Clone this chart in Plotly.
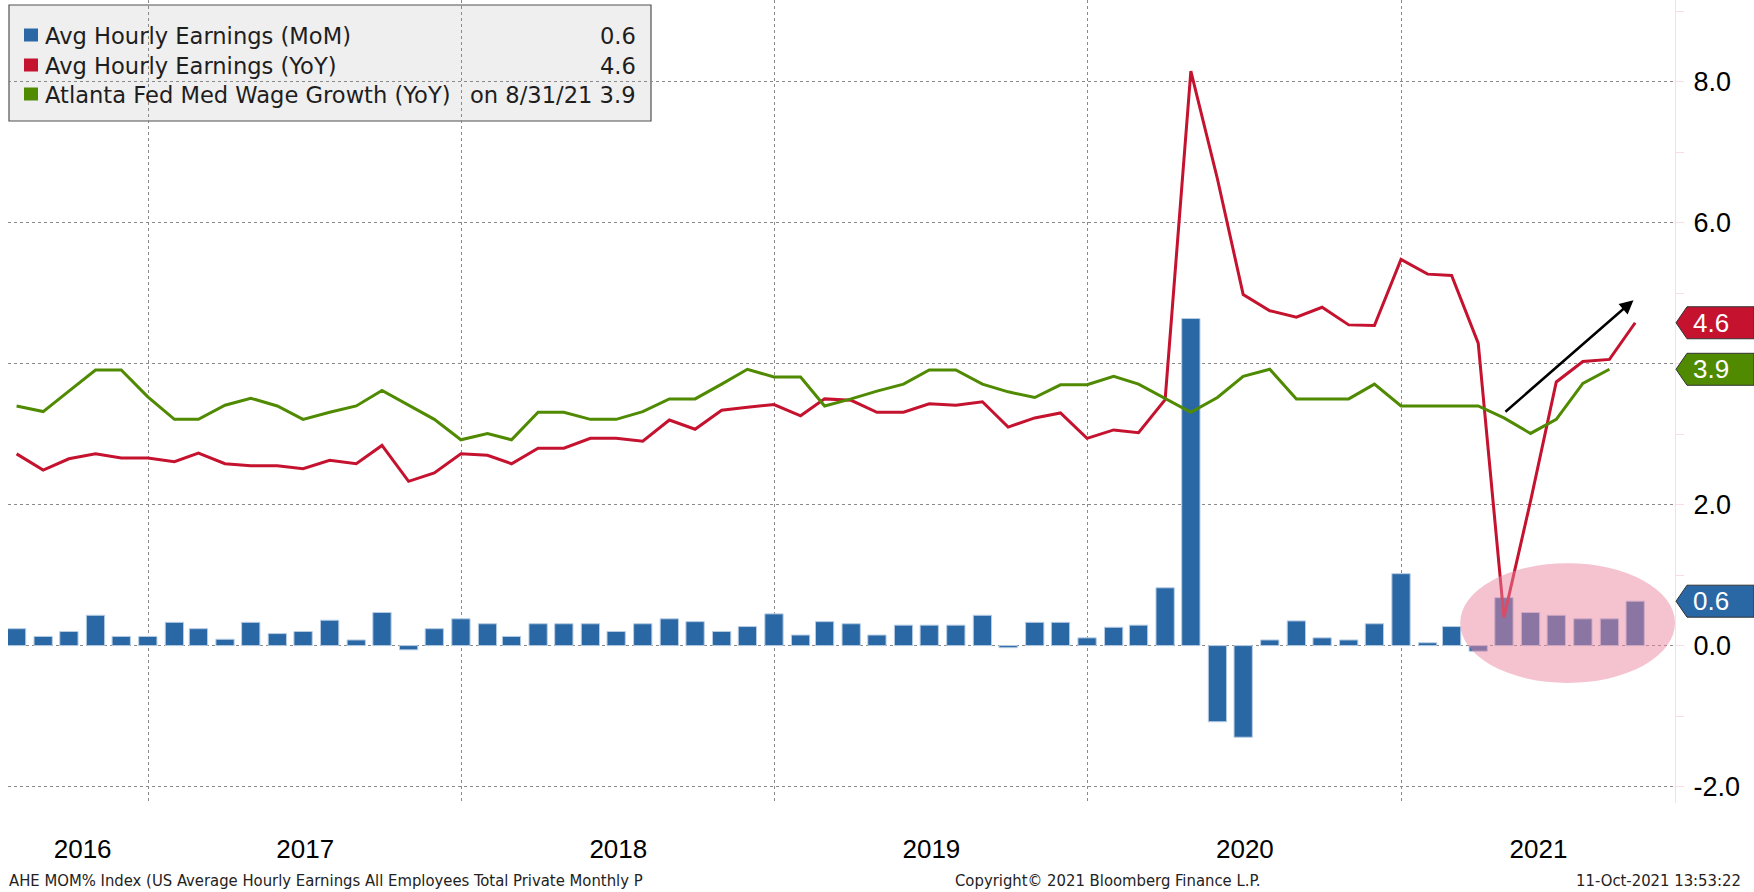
import pandas as pd
import plotly.graph_objects as go

# Month-end observation dates, Jul 2016 .. Sep 2021
dates = pd.date_range("2016-07-31", "2021-09-30", freq="ME")

# Avg Hourly Earnings, MoM %
ahe_mom = [0.24, 0.13, 0.20, 0.43, 0.13, 0.13, 0.33, 0.24, 0.09, 0.33,
           0.17, 0.20, 0.36, 0.08, 0.47, -0.06, 0.24, 0.38, 0.31, 0.13,
           0.31, 0.31, 0.31, 0.20, 0.31, 0.38, 0.34, 0.20, 0.27, 0.45,
           0.15, 0.34, 0.31, 0.15, 0.29, 0.29, 0.29, 0.43, -0.03, 0.33,
           0.33, 0.11, 0.26, 0.29, 0.82, 4.64, -1.08, -1.30, 0.08, 0.35,
           0.11, 0.08, 0.31, 1.02, 0.04, 0.27, -0.08, 0.68, 0.47, 0.43,
           0.38, 0.38, 0.63]

# Avg Hourly Earnings, YoY %
ahe_yoy = [2.72, 2.49, 2.65, 2.72, 2.66, 2.66, 2.61, 2.73, 2.58, 2.55,
           2.55, 2.51, 2.63, 2.58, 2.84, 2.33, 2.45, 2.72, 2.70, 2.58,
           2.80, 2.80, 2.94, 2.94, 2.90, 3.20, 3.07, 3.34, 3.38, 3.42,
           3.26, 3.50, 3.48, 3.31, 3.31, 3.43, 3.41, 3.46, 3.10, 3.23,
           3.30, 2.94, 3.06, 3.02, 3.49, 8.15, 6.62, 4.98, 4.75, 4.66,
           4.80, 4.55, 4.54, 5.48, 5.27, 5.25, 4.29, 0.40, 2.05, 3.74,
           4.03, 4.06, 4.58]

# Atlanta Fed median wage growth, YoY % (through Aug 2021)
atl_wage = [3.40, 3.32, 3.61, 3.91, 3.91, 3.53, 3.21, 3.21, 3.41, 3.51,
            3.40, 3.21, 3.31, 3.40, 3.62, 3.41, 3.21, 2.92, 3.01, 2.92,
            3.31, 3.31, 3.21, 3.21, 3.32, 3.50, 3.50, 3.71, 3.92, 3.81,
            3.81, 3.40, 3.50, 3.61, 3.71, 3.91, 3.91, 3.71, 3.60, 3.52,
            3.70, 3.70, 3.82, 3.71, 3.51, 3.31, 3.52, 3.82, 3.92, 3.50,
            3.50, 3.50, 3.71, 3.40, 3.40, 3.40, 3.40, 3.23, 3.01, 3.21,
            3.72, 3.92]
atl_dates = dates[:len(atl_wage)]

years = ["2016", "2017", "2018", "2019", "2020", "2021"]
year_starts = ["2017-01-01", "2018-01-01", "2019-01-01", "2020-01-01", "2021-01-01"]
y_ticks = [-2, 0, 2, 4, 6, 8]
y_ticktext = ["-2.0", "0.0", "2.0", "", "6.0", "8.0"]

BLUE = "#2a67a5"
RED = "#c4122f"
GREEN = "#4f8a00"
GRID = "#8a8a8a"
PINK = "#fadde4"

# canvas / plot area in pixels
W, H = 1754, 892
L, R, T, B = 8, 79, 0, 89
pw, ph = W - L - R, H - T - B


def px(x):
    return (x - L) / pw


def py(y):
    return 1 - (y - T) / ph


x_start = pd.Timestamp("2016-07-21")
x_end = pd.Timestamp("2021-11-15 10:00")

# year labels centred in each (visible) year
edges = [dates[0]] + [pd.Timestamp(s) for s in year_starts] + [x_end]
label_pos = [a + (b - a) / 2 for a, b in zip(edges[:-1], edges[1:])]

fig = go.Figure()

fig.add_trace(go.Bar(x=dates, y=ahe_mom, width=21.3 * 86400000,
                     marker=dict(color=BLUE, line=dict(color="#b7cde4", width=1)),
                     name="Avg Hourly Earnings (MoM)"))
fig.add_trace(go.Scatter(x=dates, y=ahe_yoy, mode="lines",
                         line=dict(color=RED, width=3),
                         name="Avg Hourly Earnings (YoY)"))
fig.add_trace(go.Scatter(x=atl_dates, y=atl_wage, mode="lines",
                         line=dict(color=GREEN, width=3),
                         name="Atlanta Fed Med Wage Growth (YoY)"))

shapes = []
annotations = []

# legend box
shapes.append(dict(type="rect", xref="paper", yref="paper",
                   x0=px(9), x1=px(651), y0=py(121), y1=py(5),
                   fillcolor="#efefef", line=dict(color="#505050", width=1.2),
                   layer="below"))

last_atl = atl_dates[-1]
legend_rows = [
    (BLUE, "Avg Hourly Earnings (MoM)", f"{ahe_mom[-1]:.1f}", 35),
    (RED, "Avg Hourly Earnings (YoY)", f"{ahe_yoy[-1]:.1f}", 65),
    (GREEN, "Atlanta Fed Med Wage Growth (YoY)",
     f"on {last_atl.month}/{last_atl.day}/{last_atl.strftime('%y')} {atl_wage[-1]:.1f}", 94),
]
legend_font = dict(family="DejaVu Sans", size=22.6, color="#1e1e1e")
for color, label, val, yc in legend_rows:
    shapes.append(dict(type="rect", xref="paper", yref="paper",
                       x0=px(24), x1=px(38), y0=py(yc + 6.5), y1=py(yc - 6.5),
                       fillcolor=color, line=dict(width=0)))
    annotations.append(dict(xref="paper", yref="paper", x=px(43), y=py(yc + 1),
                            xanchor="left", yanchor="middle", showarrow=False,
                            text=label, font=legend_font))
    annotations.append(dict(xref="paper", yref="paper", x=px(638), y=py(yc + 1),
                            xanchor="right", yanchor="middle", showarrow=False,
                            text=val, font=legend_font))

# pink highlight ellipse over the 2021 bars
shapes.append(dict(type="circle", xref="x", yref="y",
                   x0="2021-03-10", x1=x_end, y0=-0.53, y1=1.17,
                   fillcolor="rgba(235,133,161,0.5)", line=dict(width=0),
                   layer="above"))

# last-value tags on the right axis
h = 16 / (ph / (9.159 + 2.233))
for val, color in [(ahe_yoy[-1], RED), (atl_wage[-1], GREEN), (ahe_mom[-1], BLUE)]:
    xt, xb, xe = px(1676), px(1687), px(1754)
    path = (f"M {xt},{val} L {xb},{val + h} L {xe},{val + h} "
            f"L {xe},{val - h} L {xb},{val - h} Z")
    shapes.append(dict(type="path", xref="paper", yref="y", path=path,
                       fillcolor=color, line=dict(color="#333333", width=1),
                       layer="above"))
    annotations.append(dict(xref="paper", yref="y", x=px(1691), y=val,
                            xanchor="left", yanchor="middle", showarrow=False,
                            text=f"{val:.1f}",
                            font=dict(family="Liberation Sans", size=26, color="white")))

# trend arrow
annotations.append(dict(x="2021-09-28", y=4.90, ax="2021-04-30", ay=3.30,
                        xref="x", yref="y", axref="x", ayref="y", text="",
                        showarrow=True, arrowhead=2, arrowsize=1.1,
                        arrowwidth=2.5, arrowcolor="black"))

# footer
foot = dict(family="Liberation Sans Narrow, DejaVu Sans Condensed, Liberation Sans",
            size=16.5, color="#222222")
annotations.append(dict(xref="paper", yref="paper", x=px(7), y=py(880),
                        xanchor="left", yanchor="middle", showarrow=False, font=foot,
                        text="AHE MOM% Index (US Average Hourly Earnings All Employees Total Private Monthly P"))
annotations.append(dict(xref="paper", yref="paper", x=px(1107), y=py(880),
                        xanchor="center", yanchor="middle", showarrow=False, font=foot,
                        text="Copyright© 2021 Bloomberg Finance L.P."))
annotations.append(dict(xref="paper", yref="paper", x=px(1743), y=py(880),
                        xanchor="right", yanchor="middle", showarrow=False, font=foot,
                        text="11-Oct-2021 13:53:22"))

fig.update_layout(
    width=W, height=H,
    margin=dict(l=L, r=R, t=T, b=B),
    paper_bgcolor="white", plot_bgcolor="white",
    showlegend=False,
    shapes=shapes, annotations=annotations,
)
fig.update_xaxes(
    type="date", range=[x_start, x_end],
    tickmode="array", tickvals=label_pos, ticktext=years,
    showgrid=False, zeroline=False, ticks="", showline=False,
    ticklabelstandoff=28,
    tickfont=dict(family="Liberation Sans", size=26, color="black"),
    minor=dict(tickmode="array", tickvals=year_starts, showgrid=True,
               gridcolor=GRID, griddash="dot", gridwidth=1.2, ticks=""),
)
fig.update_yaxes(
    range=[-2.233, 9.159], side="right",
    tickmode="array", tickvals=y_ticks, ticktext=y_ticktext,
    showgrid=True, gridcolor=GRID, griddash="dot", gridwidth=1.2,
    zeroline=False, showline=True, linecolor=PINK, linewidth=1,
    ticks="outside", ticklen=8, tickcolor=PINK, ticklabelstandoff=4,
    tickfont=dict(family="Liberation Sans", size=27, color="black"),
    minor=dict(tickmode="linear", tick0=-1, dtick=2, ticks="outside",
               ticklen=8, tickcolor=PINK, showgrid=False),
)

# drop the browser's default 8px body margin so the figure fills the window
fig.write_html("out.html", config={"displayModeBar": False},
               post_script="document.body.style.margin='0';")
